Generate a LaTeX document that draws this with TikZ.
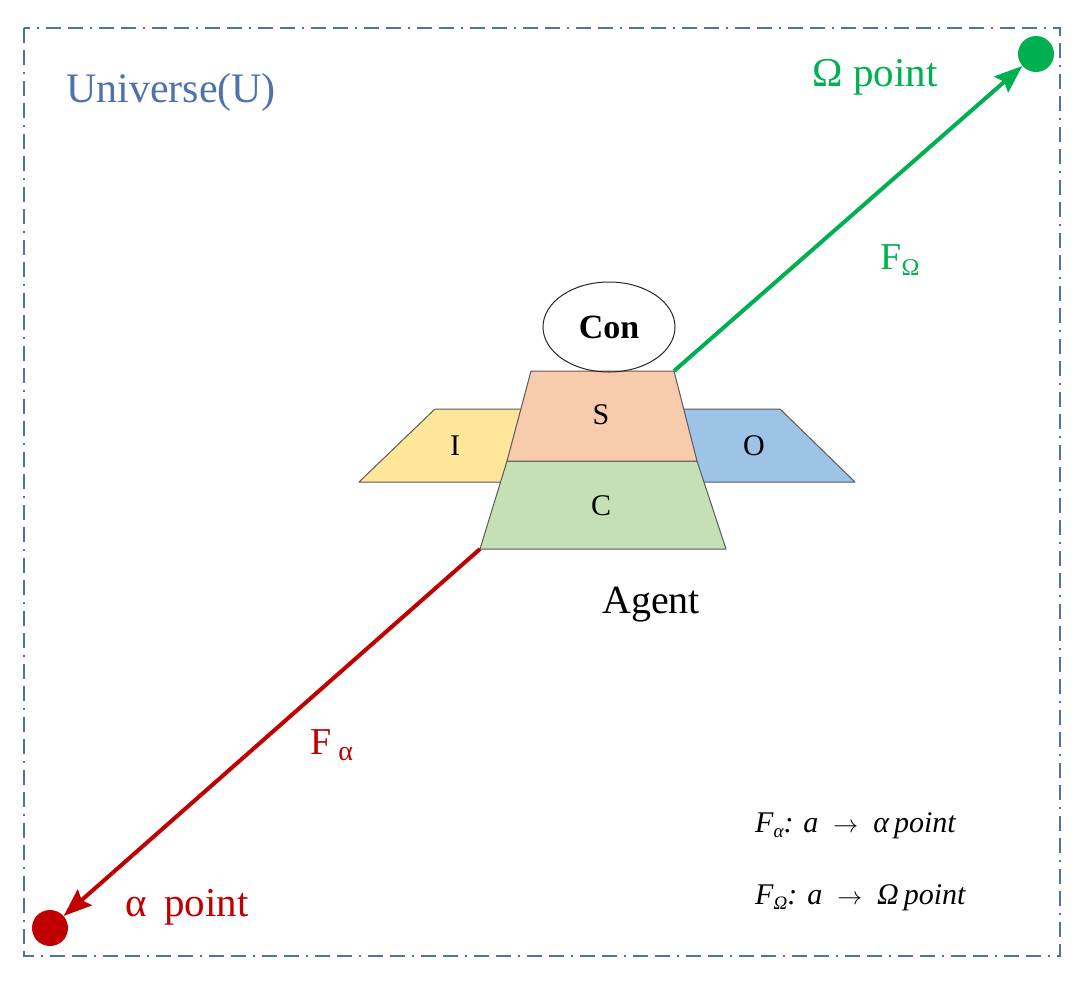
\documentclass[tikz,border=0pt]{standalone}
\usepackage{fontspec}
\setmainfont{Liberation Serif}
\usetikzlibrary{arrows.meta,positioning,shapes.geometric}
\definecolor{univblue}{RGB}{79,114,175}
\definecolor{omegagreen}{RGB}{0,176,80}
\definecolor{alphared}{RGB}{192,0,0}
\definecolor{sfill}{RGB}{248,203,173}
\definecolor{cfill}{RGB}{197,224,180}
\definecolor{ifill}{RGB}{255,230,153}
\definecolor{ofill}{RGB}{157,195,230}
\newcommand{\fsz}[1]{\fontsize{#1}{#1}\selectfont}
\newcommand{\mapsub}[1]{\raisebox{-5pt}{\fsz{19}\itshape #1}}

\begin{document}
\begin{tikzpicture}[x=1pt,y=-1pt,
  part/.style={draw=black!65,line width=1pt,line join=round},
  dot/.style={circle,inner sep=0pt,minimum size=36pt},
  flow/.style={line width=4pt,-{Stealth[length=28pt,width=21pt,inset=4pt]}},
  lbl/.style={inner sep=0pt,font=\fsz{30}},
  maptext/.style={inner sep=0pt,anchor=west,font=\fsz{30}\itshape}]

  \useasboundingbox (0,0) rectangle (1080,983);

  % universe frame
  \draw[univblue,line width=1.8pt,dash pattern=on 15pt off 7pt on 15pt off 7pt on 2pt off 7pt]
    (24,28) rectangle (1060,956);
  \node[univblue,inner sep=0pt] (univ) at (171,92) {\fsz{42}Universe(U)};

  % agent: I and O behind, then C, S and Con
  \draw[part,fill=ifill] (359,482) -- (435,409) -- (560,409) -- (560,482) -- cycle;
  \draw[part,fill=ofill] (650,482) -- (650,409) -- (780,409) -- (855,482) -- cycle;
  \coordinate (cbl) at (480,549);
  \draw[part,fill=cfill] (cbl) -- (507,461) -- (697,461) -- (726,549) -- cycle;
  \coordinate (str) at (674,371);
  \draw[part,fill=sfill] (507,461) -- (531,371) -- (str) -- (697,461) -- cycle;
  \node[draw=black!85,line width=1pt,ellipse,minimum width=132pt,minimum height=90pt,
    inner sep=0pt] (con) at (609,327) {\fsz{34}\bfseries Con};

  \node[lbl] (lblI) at (455,446) {I};
  \node[lbl] (lblO) at (754,446) {O};
  \node[lbl] (lblS) at (601,415) {S};
  \node[lbl] (lblC) at (601,506) {C};
  \node[inner sep=0pt] (agent) at (651,605) {\fsz{40}Agent};

  % end points
  \node[dot,fill=omegagreen] (omega) at (1036,54) {};
  \node[dot,fill=alphared] (alpha) at (50,928) {};
  \draw[flow,omegagreen] (str) -- (omega);
  \draw[flow,alphared] (cbl) -- (alpha);

  \node[omegagreen,inner sep=0pt] (omegalbl) at (875,77) {\fsz{41}Ω point};
  \node[alphared,inner sep=0pt] (alphalbl) at (187,907) {\fsz{41}α\, point};
  \node[omegagreen,inner sep=0pt] (fomega) at (900,260) {\fsz{38}F\raisebox{-6pt}{\fsz{24}Ω}};
  \node[alphared,inner sep=0pt] (falpha) at (332,745) {\fsz{38}F\,\raisebox{-6pt}{\fsz{28}α}};

  % maps
  \node[maptext] (mapa) at (755,826) {F\mapsub{α}: a\enspace$\rightarrow$\enspace α\,point};
  \node[maptext] (mapo) at (755,898) {F\mapsub{Ω}: a\enspace$\rightarrow$\enspace Ω\,point};
\end{tikzpicture}
\end{document}
